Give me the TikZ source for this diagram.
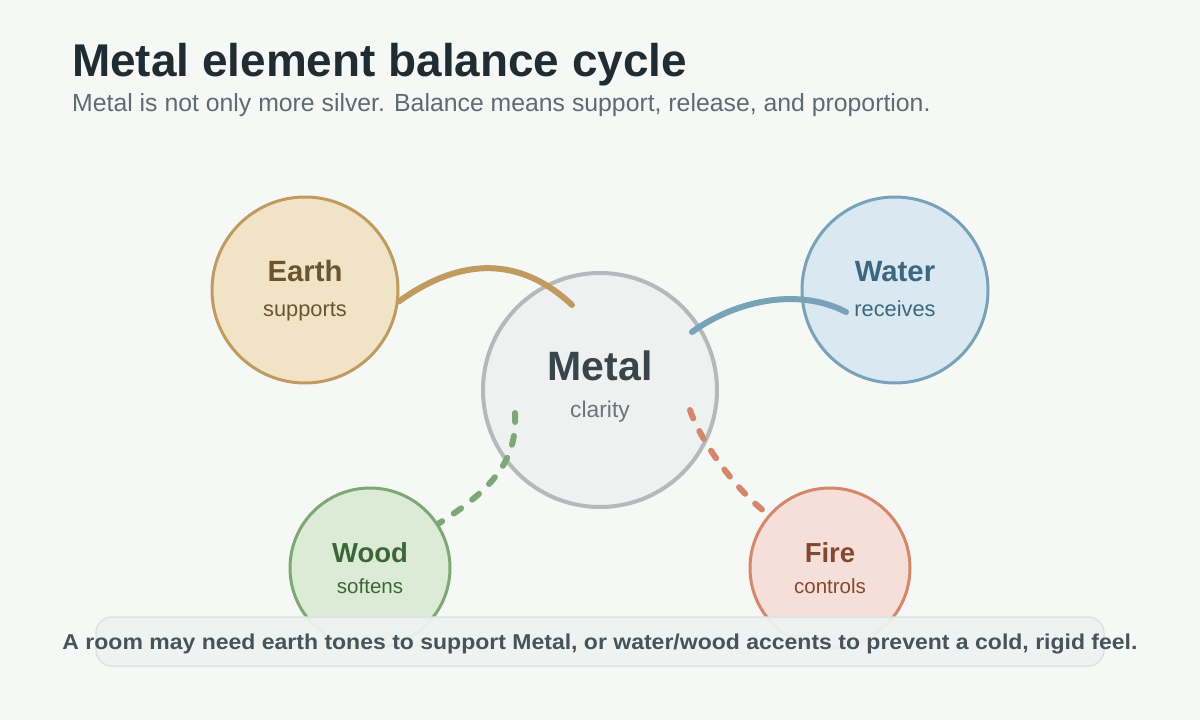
\documentclass[tikz,border=0pt]{standalone}
\usepackage{fontspec}
\setmainfont{Liberation Sans}
\newfontfamily\bannerfont[FakeStretch=1.07]{Liberation Sans}
\usetikzlibrary{calc}
\definecolor{bg}{HTML}{F6F8F6}
\definecolor{titlec}{HTML}{1F2D33}
\definecolor{subc}{HTML}{5F6B70}
\definecolor{earthfill}{HTML}{F1E3C6}
\definecolor{earthline}{HTML}{BF9B5F}
\definecolor{earthtext}{HTML}{6B5530}
\definecolor{waterfill}{HTML}{D9E8F1}
\definecolor{waterline}{HTML}{78A2B7}
\definecolor{watertext}{HTML}{3B6880}
\definecolor{metalfill}{HTML}{EFF1F1}
\definecolor{metalline}{HTML}{B5B9BB}
\definecolor{metaltext}{HTML}{38454B}
\definecolor{metalsub}{HTML}{6B7479}
\definecolor{woodfill}{HTML}{DCEBD6}
\definecolor{woodline}{HTML}{7DA876}
\definecolor{woodtext}{HTML}{3D6636}
\definecolor{firefill}{HTML}{F5DFD8}
\definecolor{fireline}{HTML}{D5876B}
\definecolor{firetext}{HTML}{83482F}
\definecolor{bannerfill}{HTML}{EEF2F1}
\definecolor{bannerline}{HTML}{DDE3E1}
\definecolor{bannertext}{HTML}{46545A}
\tikzset{
  elem/.style={circle, inner sep=0pt, line width=3pt},
  headlbl/.style={anchor=base, font=\bfseries\fontsize{27.5}{30}\selectfont, inner sep=0pt},
  sublbl/.style={anchor=base, font=\fontsize{20.5}{24}\selectfont, inner sep=0pt},
  bighead/.style={headlbl, font=\bfseries\fontsize{29.3}{32}\selectfont},
  bigsub/.style={sublbl, font=\fontsize{21.8}{25}\selectfont},
  solidlink/.style={line width=6pt, line cap=round},
  dashlink/.style={line width=6pt, line cap=round, dash pattern=on 9pt off 14pt},
}
\begin{document}
\begin{tikzpicture}[x=1pt,y=-1pt]
\useasboundingbox[fill=bg] (0,0) rectangle (1200,720);
% title
\node[anchor=base west, inner sep=0pt, text=titlec, font=\bfseries\fontsize{45.9}{50}\selectfont] (title) at (72,76) {Metal element balance cycle};
\node[anchor=base west, inner sep=0pt, text=subc, font=\fontsize{24.8}{28}\selectfont] (subtitle) at (72,111.7) {Metal is not only more silver. Balance means support, release, and proportion.};
% circles
\node[elem, minimum size=186pt, draw=earthline, fill=earthfill] (earth) at (305,290) {};
\node[elem, minimum size=186pt, draw=waterline, fill=waterfill] (water) at (895,290) {};
\node[elem, minimum size=234pt, line width=4pt, draw=metalline, fill=metalfill] (metal) at (600,390) {};
\node[elem, minimum size=160pt, draw=woodline, fill=woodfill] (wood) at (370,568) {};
\node[elem, minimum size=160pt, draw=fireline, fill=firefill] (fire) at (830,568) {};
% labels
\node[bighead, text=earthtext] (earthname) at (305,281.7) {Earth};
\node[bigsub, text=earthtext] (earthsub) at (305,316.7) {supports};
\node[bighead, text=watertext] (watername) at (895,281.7) {Water};
\node[bigsub, text=watertext] (watersub) at (895,316.7) {receives};
\node[anchor=base, inner sep=0pt, text=metaltext, font=\bfseries\fontsize{41}{44}\selectfont] (metalname) at (600,380) {Metal};
\node[sublbl, text=metalsub, font=\fontsize{22.8}{26}\selectfont] (metalsub) at (600,417.7) {clarity};
\node[headlbl, text=woodtext] (woodname) at (370,562.3) {Wood};
\node[sublbl, text=woodtext] (woodsub) at (370,593) {softens};
\node[headlbl, text=firetext] (firename) at (830,562.3) {Fire};
\node[sublbl, text=firetext] (firesub) at (830,593) {controls};
% connector end points inside circles
\coordinate (earthend) at (572,305);
\coordinate (waterstart) at (692,332);
\coordinate (waterend) at (846,312);
\coordinate (woodstart) at (515,413);
\coordinate (firestart) at (690,410);
% connectors
\draw[solidlink, draw=earthline] (earth.353) .. controls (462,256) and (521,257) .. (earthend);
\draw[solidlink, draw=waterline] (waterstart) .. controls (738,299) and (800,288) .. (waterend);
\draw[dashlink, draw=woodline] (woodstart) .. controls (517,455) and (500,485) .. (wood.33);
\draw[dashlink, draw=fireline] (firestart) .. controls (700,440) and (735,490) .. (fire.139);
% banner
\node[draw=bannerline, line width=1.5pt, fill=bannerfill, fill opacity=0.95, rounded corners=16pt, minimum width=1008pt, minimum height=49pt, inner sep=0pt] (banner) at (600,641.5) {};
\node[anchor=base, inner sep=0pt, text=bannertext, font=\bannerfont\bfseries\fontsize{21.5}{24}\selectfont] (bannertxt) at (600,649.3) {A room may need earth tones to support Metal, or water/wood accents to prevent a cold, rigid feel.};
\end{tikzpicture}
\end{document}
